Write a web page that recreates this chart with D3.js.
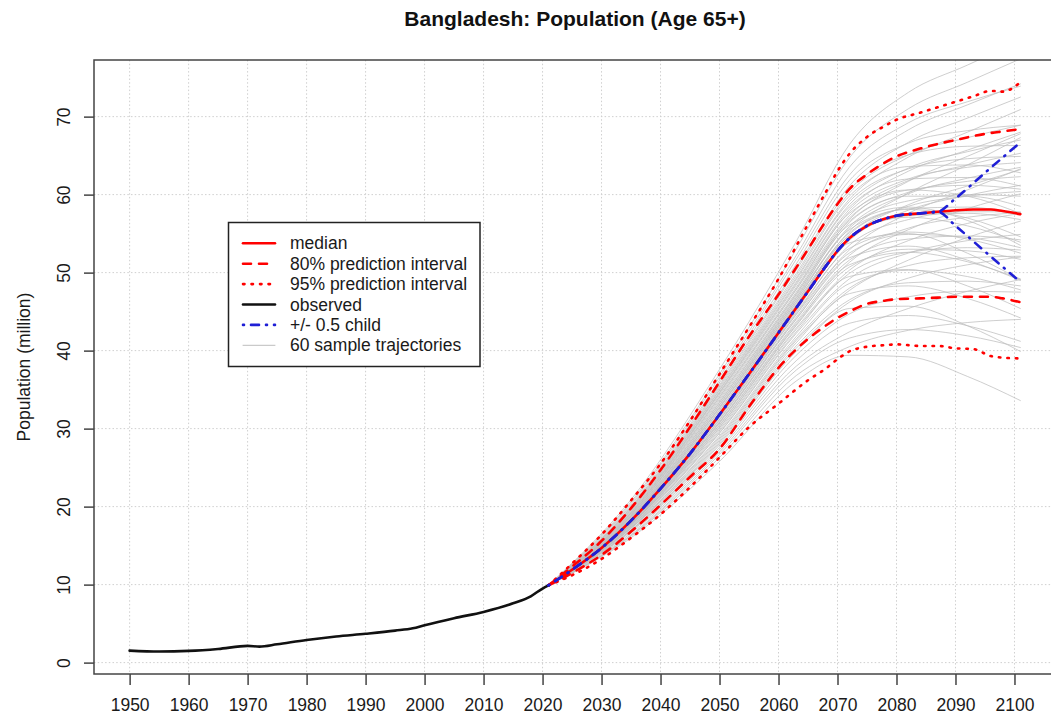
<!DOCTYPE html>
<html>
<head>
<meta charset="utf-8">
<script src="https://cdn.jsdelivr.net/npm/d3@7"></script>
<style>
  html, body { margin: 0; padding: 0; background: #ffffff; overflow: hidden; }
  svg { display: block; font-family: "Liberation Sans", Arial, Helvetica, sans-serif; }
</style>
</head>
<body>
<svg id="chart" width="1051" height="715"></svg>
<script>
// ---- Tick labels ----
const xTicks = [1950, 1960, 1970, 1980, 1990, 2000, 2010, 2020, 2030, 2040, 2050, 2060, 2070, 2080, 2090, 2100];
const yTicks = [0, 10, 20, 30, 40, 50, 60, 70];

// ---- Observed population aged 65+ (million) ----
const obsYears  = [1950, 1955, 1960, 1965, 1970, 1972, 1975, 1980, 1985, 1990, 1995, 1998, 2000, 2005, 2010, 2015, 2018, 2020, 2021];
const obsValues = [1.54, 1.42, 1.50, 1.75, 2.14, 2.05, 2.35, 2.90, 3.35, 3.70, 4.10, 4.40, 4.80, 5.70, 6.50, 7.60, 8.50, 9.50, 9.90];

// ---- Projection: median and prediction intervals ----
const projYears = [2021, 2025, 2030, 2035, 2040, 2045, 2050, 2055, 2060, 2065, 2068, 2070, 2072, 2075, 2078, 2080, 2084, 2087, 2090, 2093, 2096, 2098, 2101];
const median    = [9.9, 11.9, 14.7, 18.2, 22.3, 26.8, 31.8, 37.0, 42.3, 47.6, 50.8, 52.8, 54.4, 56.0, 56.9, 57.3, 57.6, 57.8, 58.0, 58.1, 58.1, 57.9, 57.5];
const upper80   = [9.9, 12.3, 15.6, 19.8, 24.7, 30.2, 36.0, 41.8, 47.2, 53.0, 56.6, 58.8, 60.7, 62.6, 64.1, 64.9, 65.9, 66.5, 67.0, 67.5, 67.9, 68.1, 68.4];
const lower80   = [9.9, 11.5, 13.8, 16.8, 20.2, 23.8, 27.4, 32.8, 37.8, 41.5, 43.2, 44.2, 45.0, 46.0, 46.4, 46.6, 46.7, 46.8, 46.9, 46.9, 46.9, 46.7, 46.2];
const upper95   = [9.9, 12.7, 16.4, 20.8, 25.5, 31.0, 37.0, 43.0, 49.2, 56.2, 60.3, 63.0, 65.2, 67.4, 68.8, 69.6, 70.5, 71.2, 71.9, 72.6, 73.3, 73.2, 74.4];
const lower95   = [9.9, 11.2, 13.3, 16.0, 19.0, 22.5, 26.3, 30.2, 33.2, 36.2, 37.7, 38.9, 39.9, 40.5, 40.7, 40.8, 40.6, 40.6, 40.3, 40.2, 39.3, 39.1, 39.0];

// ---- +/- 0.5 child variants ----
const childYears = [2021, 2025, 2030, 2035, 2040, 2045, 2050, 2055, 2060, 2065, 2068, 2070, 2072, 2075, 2078, 2080, 2084, 2087, 2090, 2095, 2101];
const childHigh  = [9.9, 11.9, 14.7, 18.2, 22.3, 26.8, 31.8, 37.0, 42.3, 47.6, 50.8, 52.8, 54.4, 56.0, 56.9, 57.3, 57.6, 57.8, 59.5, 62.8, 66.7];
const childLow   = [9.9, 11.9, 14.7, 18.2, 22.3, 26.8, 31.8, 37.0, 42.3, 47.6, 50.8, 52.8, 54.4, 56.0, 56.9, 57.3, 57.6, 57.8, 56.0, 52.7, 48.8];

// ---- Sample trajectories (values at trajYears, all starting from trajStart) ----
const trajStartYear = 2021;
const trajStart = 9.9;
const trajYears = [2035, 2050, 2063, 2072, 2082, 2092, 2101];
const trajectories = [
  [16.0, 25.8, 36.1, 39.4, 39.2, 36.7, 33.6],
  [16.2, 26.3, 36.8, 40.5, 42.6, 43.6, 44.0],
  [16.3, 26.7, 37.5, 41.6, 42.7, 41.9, 40.4],
  [16.4, 27.0, 38.0, 42.4, 45.4, 47.6, 49.1],
  [16.6, 27.3, 38.7, 43.5, 44.5, 43.2, 41.2],
  [16.8, 27.6, 39.4, 44.7, 46.9, 47.6, 47.5],
  [16.9, 27.9, 39.9, 45.4, 45.7, 43.2, 39.9],
  [17.0, 28.1, 40.3, 46.2, 49.3, 51.0, 52.0],
  [17.0, 28.3, 40.6, 46.5, 48.7, 48.9, 48.3],
  [17.2, 28.5, 41.0, 47.3, 48.3, 46.7, 44.2],
  [17.2, 28.7, 41.3, 47.7, 51.6, 54.5, 56.6],
  [17.3, 28.9, 41.5, 48.0, 50.9, 51.9, 52.1],
  [17.3, 29.1, 41.8, 48.6, 50.3, 49.5, 47.8],
  [17.4, 29.4, 42.2, 49.2, 52.5, 54.1, 54.9],
  [17.5, 29.5, 42.4, 49.5, 50.4, 48.3, 45.4],
  [17.5, 29.7, 42.7, 49.9, 52.6, 53.2, 52.9],
  [17.6, 29.9, 42.9, 50.3, 54.1, 56.3, 57.6],
  [17.7, 30.1, 43.2, 50.7, 53.0, 52.8, 51.7],
  [17.7, 30.2, 43.3, 51.0, 52.6, 51.4, 49.2],
  [17.7, 30.4, 43.5, 51.3, 55.5, 58.2, 60.1],
  [17.8, 30.5, 43.7, 51.6, 54.3, 54.7, 54.2],
  [17.8, 30.7, 44.0, 51.9, 53.4, 51.6, 49.0],
  [17.9, 30.8, 44.1, 52.2, 55.7, 57.1, 57.7],
  [17.9, 30.9, 44.3, 52.5, 54.9, 54.5, 53.2],
  [18.0, 31.1, 44.6, 52.9, 57.6, 60.6, 63.3],
  [18.0, 31.2, 44.7, 53.1, 55.2, 54.3, 52.5],
  [18.1, 31.4, 44.9, 53.5, 56.8, 57.8, 57.8],
  [18.1, 31.5, 45.1, 53.8, 55.0, 52.5, 49.1],
  [18.2, 31.7, 45.3, 54.1, 58.0, 59.9, 61.2],
  [18.2, 31.8, 45.5, 54.4, 57.3, 57.6, 56.8],
  [18.2, 31.9, 45.6, 54.5, 58.7, 61.1, 63.2],
  [18.3, 32.0, 45.8, 54.7, 57.1, 56.0, 53.9],
  [18.3, 32.1, 45.9, 54.9, 58.5, 59.8, 60.4],
  [18.4, 32.3, 46.1, 55.1, 58.2, 58.4, 57.4],
  [18.4, 32.4, 46.2, 55.3, 60.2, 63.8, 67.3],
  [18.5, 32.6, 46.4, 55.5, 58.1, 57.0, 54.6],
  [18.5, 32.7, 46.5, 55.7, 59.2, 60.0, 59.8],
  [18.6, 32.8, 46.7, 55.9, 60.1, 62.1, 63.5],
  [18.6, 33.0, 46.8, 56.1, 58.4, 56.7, 53.5],
  [18.7, 33.1, 47.0, 56.4, 60.3, 61.7, 62.3],
  [18.8, 33.3, 47.2, 56.6, 59.8, 59.8, 58.5],
  [18.8, 33.4, 47.3, 56.8, 61.7, 64.9, 67.8],
  [18.9, 33.6, 47.5, 57.0, 60.6, 61.2, 60.7],
  [19.0, 33.8, 47.8, 57.3, 61.8, 63.8, 65.3],
  [19.0, 34.0, 47.9, 57.6, 60.6, 59.8, 57.6],
  [19.1, 34.1, 48.1, 57.8, 62.0, 63.5, 64.1],
  [19.2, 34.3, 48.4, 58.1, 63.0, 65.7, 68.0],
  [19.2, 34.5, 48.6, 58.4, 62.0, 62.2, 61.1],
  [19.3, 34.6, 48.8, 58.7, 63.4, 65.5, 67.0],
  [19.4, 34.7, 49.1, 59.1, 63.3, 64.6, 64.9],
  [19.5, 34.9, 49.3, 59.4, 64.8, 68.0, 70.9],
  [19.6, 35.0, 49.6, 59.8, 63.6, 63.8, 62.8],
  [19.7, 35.2, 49.9, 60.2, 65.1, 67.3, 68.9],
  [19.8, 35.4, 50.3, 60.6, 65.1, 66.2, 66.3],
  [19.9, 35.6, 50.6, 61.1, 66.7, 69.8, 72.5],
  [20.0, 35.9, 51.1, 61.8, 66.6, 68.2, 68.9],
  [20.2, 36.2, 51.7, 62.5, 68.3, 71.5, 74.2],
  [20.4, 36.6, 52.2, 63.5, 69.2, 71.9, 73.9],
  [20.6, 37.0, 53.0, 64.7, 71.0, 74.4, 77.4],
  [20.9, 37.6, 54.0, 66.4, 73.1, 76.6, 79.7]
];

// ---- Legend entries ----
const legendLabels = ["median", "80% prediction interval", "95% prediction interval", "observed", "+/- 0.5 child", "60 sample trajectories"];

// ---- Layout ----
const svg = d3.select("#chart");
const plot = { left: 94, right: 1056, top: 60, bottom: 674 };
const FONT = 17.5;

const x = d3.scaleLinear().domain([1943.96, 2107.04]).range([plot.left, plot.right]);
const y = d3.scaleLinear().domain([-1.46, 77.26]).range([plot.bottom, plot.top]);

const zip = (xs, ys) => xs.map((v, i) => [v, ys[i]]);
const line = d3.line().x(d => x(d[0])).y(d => y(d[1])).curve(d3.curveMonotoneX);

// Styles for the different series
const styles = {
  median:   { stroke: "#ff0000", width: 2.6, dash: null },
  pi80:     { stroke: "#ff0000", width: 2.6, dash: "8,8" },
  pi95:     { stroke: "#ff0000", width: 2.6, dash: "1.5,7" },
  observed: { stroke: "#111111", width: 2.6, dash: null },
  child:    { stroke: "#1f1fd6", width: 2.6, dash: "1,7,8,7" },
  traj:     { stroke: "#bdbdbd", width: 1,   dash: null }
};

// Clip region for data
svg.append("defs").append("clipPath").attr("id", "plotClip")
  .append("rect")
  .attr("x", plot.left).attr("y", plot.top)
  .attr("width", plot.right - plot.left).attr("height", plot.bottom - plot.top);

// ---- Grid ----
const grid = svg.append("g").attr("class", "grid")
  .attr("stroke", "#cfcfcf").attr("stroke-width", 1).attr("stroke-dasharray", "1.5,2.2");
grid.selectAll("line.v").data(xTicks).join("line").attr("class", "v")
  .attr("x1", d => x(d)).attr("x2", d => x(d))
  .attr("y1", plot.top).attr("y2", plot.bottom);
grid.selectAll("line.h").data(yTicks).join("line").attr("class", "h")
  .attr("x1", plot.left).attr("x2", plot.right)
  .attr("y1", d => y(d)).attr("y2", d => y(d));

// ---- Data layer ----
const data = svg.append("g").attr("clip-path", "url(#plotClip)")
  .attr("fill", "none").attr("stroke-linecap", "round").attr("stroke-linejoin", "round");

function drawSeries(points, st, opacity) {
  const p = data.append("path")
    .attr("d", line(points))
    .attr("stroke", st.stroke)
    .attr("stroke-width", st.width);
  if (st.dash) p.attr("stroke-dasharray", st.dash);
  if (opacity != null) p.attr("stroke-opacity", opacity);
  return p;
}

// Sample trajectories
trajectories.forEach(row => {
  const pts = [[trajStartYear, trajStart]].concat(zip(trajYears, row));
  drawSeries(pts, styles.traj, 0.75);
});

// Prediction intervals
drawSeries(zip(projYears, upper95), styles.pi95);
drawSeries(zip(projYears, lower95), styles.pi95);
drawSeries(zip(projYears, upper80), styles.pi80);
drawSeries(zip(projYears, lower80), styles.pi80);

// Median
drawSeries(zip(projYears, median), styles.median);

// Observed
drawSeries(zip(obsYears, obsValues), styles.observed);

// +/- 0.5 child
drawSeries(zip(childYears, childHigh), styles.child);
drawSeries(zip(childYears, childLow), styles.child);

// ---- Axes ----
const axisColor = "#444444";
const xAxis = svg.append("g")
  .attr("transform", `translate(0,${plot.bottom})`)
  .call(d3.axisBottom(x).tickValues(xTicks).tickFormat(d3.format("d")).tickSize(11));
xAxis.select(".domain").remove();
xAxis.selectAll(".tick line").attr("stroke", axisColor).attr("stroke-width", 1.5);
xAxis.selectAll(".tick text")
  .attr("y", 37).attr("dy", null)
  .attr("fill", "#1a1a1a")
  .style("font-size", FONT + "px")
  .style("font-family", "'Liberation Sans', Arial, Helvetica, sans-serif");

const yAxis = svg.append("g")
  .attr("transform", `translate(${plot.left},0)`)
  .call(d3.axisLeft(y).tickValues(yTicks).tickFormat(d3.format("d")).tickSize(10));
yAxis.select(".domain").remove();
yAxis.selectAll(".tick line").attr("stroke", axisColor).attr("stroke-width", 1.5);
yAxis.selectAll(".tick text")
  .attr("x", 0).attr("y", 0).attr("dy", null)
  .attr("text-anchor", "middle")
  .attr("transform", "translate(-24,0) rotate(-90)")
  .attr("fill", "#1a1a1a")
  .style("font-size", FONT + "px")
  .style("font-family", "'Liberation Sans', Arial, Helvetica, sans-serif");

// Plot frame
svg.append("rect")
  .attr("x", plot.left).attr("y", plot.top)
  .attr("width", plot.right - plot.left).attr("height", plot.bottom - plot.top)
  .attr("fill", "none").attr("stroke", axisColor).attr("stroke-width", 1.5);

// ---- Titles ----
svg.append("text")
  .attr("x", (plot.left + plot.right) / 2).attr("y", 26)
  .attr("text-anchor", "middle")
  .attr("font-weight", "bold")
  .attr("font-size", 21)
  .attr("fill", "#111")
  .text("Bangladesh: Population (Age 65+)");

svg.append("text")
  .attr("transform", `translate(30,${(plot.top + plot.bottom) / 2}) rotate(-90)`)
  .attr("text-anchor", "middle")
  .attr("font-size", FONT)
  .attr("fill", "#1a1a1a")
  .text("Population (million)");

// ---- Legend ----
const legendStyles = [styles.median, styles.pi80, styles.pi95, styles.observed, styles.child, styles.traj];
const legend = svg.append("g");
legend.append("rect")
  .attr("x", 228.5).attr("y", 222.5).attr("width", 251.5).attr("height", 144)
  .attr("fill", "#fff").attr("stroke", "#222").attr("stroke-width", 1.5);

const rowY = d3.scaleLinear().domain([0, legendLabels.length - 1]).range([243.3, 345.3]);
const rows = legend.selectAll("g.row").data(legendLabels).join("g").attr("class", "row")
  .attr("transform", (d, i) => `translate(0,${rowY(i)})`);
rows.append("line")
  .attr("x1", 243).attr("x2", 275).attr("y1", 0).attr("y2", 0)
  .attr("stroke", (d, i) => legendStyles[i].stroke)
  .attr("stroke-width", (d, i) => legendStyles[i].width)
  .attr("stroke-dasharray", (d, i) => legendStyles[i].dash)
  .attr("stroke-linecap", "round");
rows.append("text")
  .attr("x", 290).attr("y", 6)
  .attr("font-size", FONT)
  .attr("fill", "#1a1a1a")
  .text(d => d);
</script>
</body>
</html>
